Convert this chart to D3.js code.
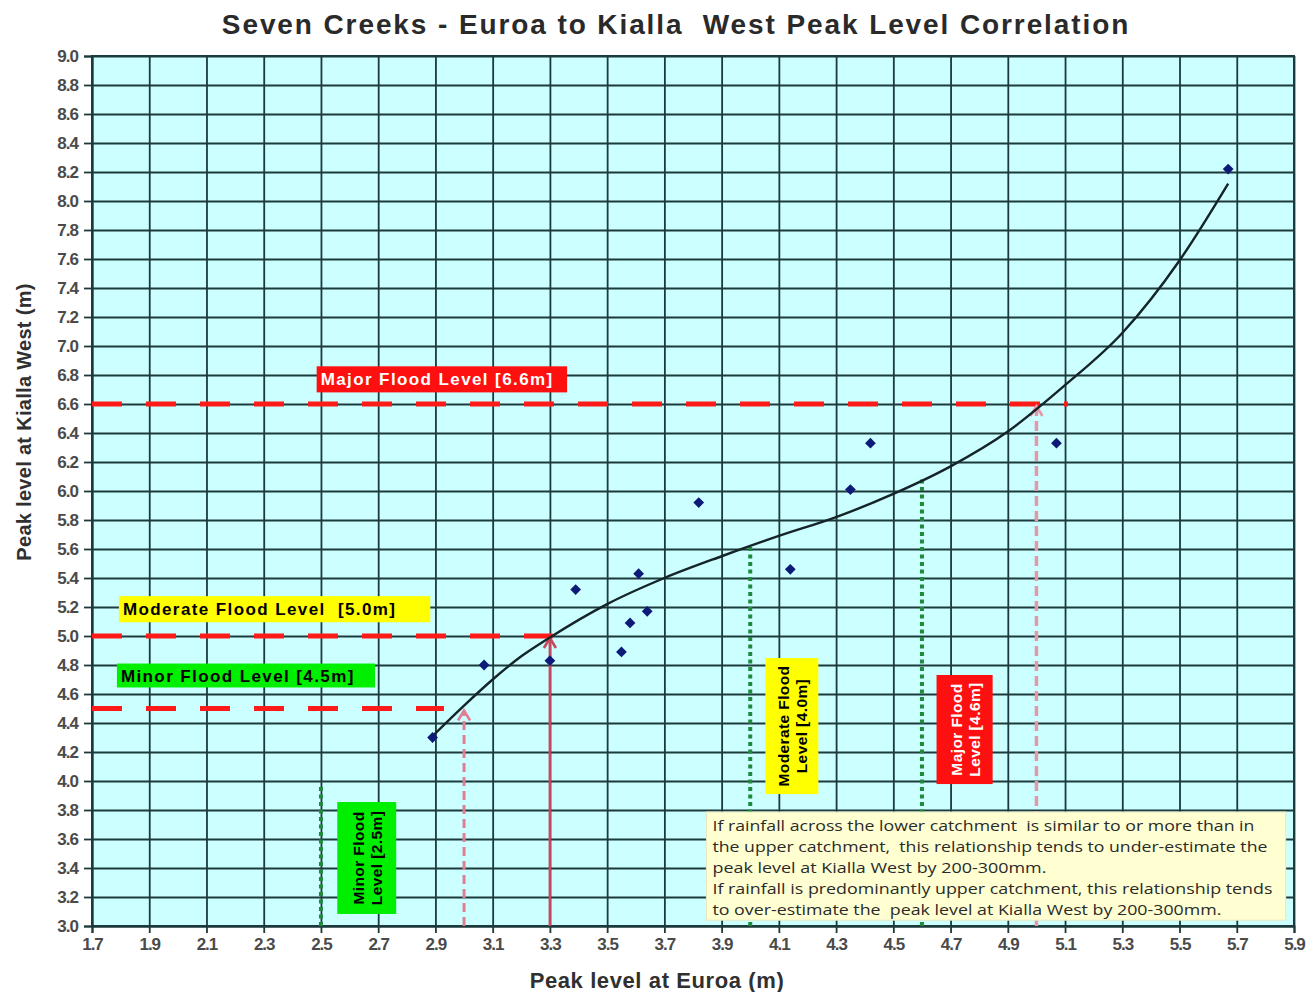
<!DOCTYPE html>
<html>
<head>
<meta charset="utf-8">
<script src="https://cdn.jsdelivr.net/npm/d3@7"></script>
<style>
  html, body { margin: 0; padding: 0; background: #ffffff; }
  svg { display: block; }
</style>
</head>
<body>
<div id="chart"></div>
<script>
// ---------------- DATA ----------------
const chartTitle = "Seven Creeks - Euroa to Kialla  West Peak Level Correlation";
const xAxisTitle = "Peak level at Euroa (m)";
const yAxisTitle = "Peak level at Kialla West (m)";

// observed peak pairs
const euroaPeaks  = [2.89, 3.07, 3.30, 3.39, 3.55, 3.58, 3.61, 3.64, 3.82, 4.14, 4.35, 4.42, 5.07, 5.67];
const kiallaPeaks = [4.30, 4.80, 4.83, 5.32, 4.89, 5.09, 5.43, 5.17, 5.92, 5.46, 6.01, 6.33, 6.33, 8.22];

// trend curve
const trendEuroa  = [2.89, 3.00, 3.10, 3.20, 3.30, 3.50, 3.70, 3.90, 4.10, 4.30, 4.50, 4.70, 4.90, 5.10, 5.30, 5.50, 5.67];
const trendKialla = [4.31, 4.52, 4.70, 4.86, 4.99, 5.22, 5.40, 5.55, 5.69, 5.82, 5.98, 6.17, 6.41, 6.73, 7.09, 7.59, 8.12];

// Kialla West flood levels (horizontal dashed lines)
const kiallaLevelLabels = ["Minor Flood Level [4.5m]", "Moderate Flood Level  [5.0m]", "Major Flood Level [6.6m]"];
const kiallaLevels      = [4.5, 5.0, 6.6];
const kiallaLineEnds    = [2.93, 3.31, 5.11];

// Euroa flood levels (vertical dotted lines)
const euroaLevelLabels1 = ["Minor Flood", "Moderate Flood", "Major Flood"];
const euroaLevelLabels2 = ["Level [2.5m]", "Level [4.0m]", "Level [4.6m]"];
const euroaLevels       = [2.5, 4.0, 4.6];
const euroaLineTops     = [3.97, 5.63, 6.08];

// correlation arrows (Euroa level -> Kialla level)
const arrowEuroa  = [3.0, 3.3, 5.0];
const arrowKialla = [4.5, 5.0, 6.6];

const levelColours = ["#00ee00", "#ffff00", "#ff1010"];
const levelText    = ["#000000", "#000000", "#ffffff"];

const noteLines = [
  "If rainfall across the lower catchment  is similar to or more than in",
  "the upper catchment,  this relationship tends to under-estimate the",
  "peak level at Kialla West by 200-300mm.",
  "If rainfall is predominantly upper catchment, this relationship tends",
  "to over-estimate the  peak level at Kialla West by 200-300mm."
];

const xTickLabels = ["1.7","1.9","2.1","2.3","2.5","2.7","2.9","3.1","3.3","3.5","3.7","3.9","4.1","4.3","4.5","4.7","4.9","5.1","5.3","5.5","5.7","5.9"];
const yTickLabels = ["3.0","3.2","3.4","3.6","3.8","4.0","4.2","4.4","4.6","4.8","5.0","5.2","5.4","5.6","5.8","6.0","6.2","6.4","6.6","6.8","7.0","7.2","7.4","7.6","7.8","8.0","8.2","8.4","8.6","8.8","9.0"];

// ---------------- LAYOUT ----------------
const W = 1312, H = 992;
const plot = { left: 92, right: 1294, top: 56, bottom: 926 };

const svg = d3.select("#chart").append("svg").attr("width", W).attr("height", H);

const x = d3.scaleLinear().domain([1.7, 5.9]).range([plot.left, plot.right]);
const y = d3.scaleLinear().domain([3.0, 9.0]).range([plot.bottom, plot.top]);

const xTickVals = xTickLabels.map(Number);
const yTickVals = yTickLabels.map(Number);

// plot background
svg.append("rect")
  .attr("x", plot.left).attr("y", plot.top)
  .attr("width", plot.right - plot.left).attr("height", plot.bottom - plot.top)
  .attr("fill", "#ccffff");

const gridColour = "#1c3a3c";

// grid lines
svg.append("g")
  .attr("transform", `translate(0,${plot.bottom})`)
  .call(d3.axisBottom(x).tickValues(xTickVals).tickSize(-(plot.bottom - plot.top)).tickFormat(""))
  .call(g => g.select(".domain").remove())
  .call(g => g.selectAll("line").attr("stroke", gridColour).attr("stroke-width", 1.8));

svg.append("g")
  .attr("transform", `translate(${plot.left},0)`)
  .call(d3.axisLeft(y).tickValues(yTickVals).tickSize(-(plot.right - plot.left)).tickFormat(""))
  .call(g => g.select(".domain").remove())
  .call(g => g.selectAll("line").attr("stroke", gridColour).attr("stroke-width", 1.8));

// axes with tick labels
const tickFont = "'Liberation Sans', Arial, sans-serif";
svg.append("g")
  .attr("transform", `translate(0,${plot.bottom})`)
  .call(d3.axisBottom(x).tickValues(xTickVals).tickSize(7).tickPadding(5).tickFormat((d, i) => xTickLabels[i]))
  .call(g => g.select(".domain").attr("stroke", gridColour).attr("stroke-width", 2))
  .call(g => g.selectAll("line").attr("stroke", gridColour).attr("stroke-width", 1.8))
  .call(g => g.selectAll("text").attr("font-family", tickFont).attr("font-weight", "bold")
    .attr("font-size", 17).attr("fill", "#4a4a4a").attr("letter-spacing", "-1px"));

svg.append("g")
  .attr("transform", `translate(${plot.left},0)`)
  .call(d3.axisLeft(y).tickValues(yTickVals).tickSize(8).tickPadding(6).tickFormat((d, i) => yTickLabels[i]))
  .call(g => g.select(".domain").attr("stroke", gridColour).attr("stroke-width", 2))
  .call(g => g.selectAll("line").attr("stroke", gridColour).attr("stroke-width", 1.8))
  .call(g => g.selectAll("text").attr("font-family", tickFont).attr("font-weight", "bold")
    .attr("font-size", 17).attr("fill", "#4a4a4a").attr("letter-spacing", "-1px"));

// right + top border
svg.append("rect")
  .attr("x", plot.left).attr("y", plot.top)
  .attr("width", plot.right - plot.left).attr("height", plot.bottom - plot.top)
  .attr("fill", "none").attr("stroke", gridColour).attr("stroke-width", 2);

// ---------------- FLOOD LINES ----------------
// vertical green dotted lines (Euroa flood levels)
svg.append("g").selectAll("line")
  .data(euroaLevels)
  .join("line")
  .attr("x1", d => x(d)).attr("x2", d => x(d))
  .attr("y1", y(3.0)).attr("y2", (d, i) => y(euroaLineTops[i]))
  .attr("stroke", "#1f8a3c").attr("stroke-width", 4).attr("stroke-dasharray", "4 3.5");

// horizontal red dashed lines (Kialla flood levels)
svg.append("g").selectAll("line")
  .data(kiallaLevels)
  .join("line")
  .attr("x1", x(1.7)).attr("x2", (d, i) => x(kiallaLineEnds[i]))
  .attr("y1", d => y(d)).attr("y2", d => y(d))
  .attr("stroke", "#ff1a1a").attr("stroke-width", 5).attr("stroke-dasharray", "30 24");

// arrows from Euroa level up to Kialla level
const arrowStyles = [
  { stroke: "#e07f93", dash: "9 5", width: 3 },
  { stroke: "#c4485e", dash: null,  width: 2.6 },
  { stroke: "#e497a6", dash: "10 5", width: 3.5 }
];
const arrowG = svg.append("g");
arrowEuroa.forEach((ev, i) => {
  const st = arrowStyles[i];
  const ax = x(ev), ay = y(arrowKialla[i]);
  arrowG.append("line")
    .attr("x1", ax).attr("x2", ax)
    .attr("y1", y(3.0)).attr("y2", ay + 2)
    .attr("stroke", st.stroke).attr("stroke-width", st.width)
    .attr("stroke-dasharray", st.dash);
  arrowG.append("path")
    .attr("d", `M${ax - 6},${ay + 12} L${ax},${ay + 2} L${ax + 6},${ay + 12}`)
    .attr("fill", "none").attr("stroke", st.stroke).attr("stroke-width", 2.6);
});

// ---------------- TREND CURVE ----------------
const trendPts = trendEuroa.map((d, i) => [d, trendKialla[i]]);
svg.append("path")
  .datum(trendPts)
  .attr("d", d3.line().x(d => x(d[0])).y(d => y(d[1])).curve(d3.curveMonotoneX))
  .attr("fill", "none").attr("stroke", "#142428").attr("stroke-width", 2.4);

// ---------------- POINTS ----------------
svg.append("g").selectAll("path")
  .data(euroaPeaks.map((d, i) => [d, kiallaPeaks[i]]))
  .join("path")
  .attr("d", d3.symbol().type(d3.symbolSquare).size(58))
  .attr("transform", d => `translate(${x(d[0])},${y(d[1])}) rotate(45)`)
  .attr("fill", "#0e1a78");

// ---------------- LABEL BOXES ----------------
const labelFont = "'Liberation Sans', Arial, sans-serif";
// horizontal label boxes in data units: [x0, x1, yTop, yBottom]
const hBoxes = [
  [1.787, 2.689, 4.81, 4.645],
  [1.794, 2.882, 5.275, 5.095],
  [2.485, 3.360, 6.86, 6.68]
];
const hLabelG = svg.append("g");
kiallaLevelLabels.forEach((lab, i) => {
  const b = hBoxes[i];
  const bx0 = x(b[0]), bx1 = x(b[1]), by0 = y(b[2]), by1 = y(b[3]);
  hLabelG.append("rect")
    .attr("x", bx0).attr("y", by0)
    .attr("width", bx1 - bx0).attr("height", by1 - by0)
    .attr("fill", levelColours[i]);
  hLabelG.append("text")
    .attr("x", bx0 + 4).attr("y", (by0 + by1) / 2 + 6)
    .attr("font-family", labelFont).attr("font-weight", "bold").attr("font-size", 17)
    .attr("letter-spacing", "1.4px")
    .attr("fill", levelText[i])
    .attr("xml:space", "preserve")
    .text(lab);
});

// vertical (rotated) label boxes in data units: [x0, x1, yTop, yBottom]
const vBoxes = [
  [2.557, 2.763, 3.855, 3.083],
  [4.053, 4.238, 4.848, 3.910],
  [4.651, 4.847, 4.731, 3.979]
];
const vLabelG = svg.append("g");
euroaLevels.forEach((lv, i) => {
  const b = vBoxes[i];
  const x0 = x(b[0]), x1 = x(b[1]), y0 = y(b[2]), y1 = y(b[3]);
  vLabelG.append("rect")
    .attr("x", x0).attr("y", y0).attr("width", x1 - x0).attr("height", y1 - y0)
    .attr("fill", levelColours[i]);
  const cx = (x0 + x1) / 2, cy = (y0 + y1) / 2;
  const t = vLabelG.append("text")
    .attr("transform", `translate(${cx},${cy}) rotate(-90)`)
    .attr("text-anchor", "middle")
    .attr("font-family", labelFont).attr("font-weight", "bold").attr("font-size", 15.5)
    .attr("letter-spacing", "0.4px")
    .attr("fill", levelText[i]);
  t.append("tspan").attr("x", 0).attr("y", -3).text(euroaLevelLabels1[i]);
  t.append("tspan").attr("x", 0).attr("y", 15).text(euroaLevelLabels2[i]);
});

// ---------------- NOTE BOX ----------------
const noteBox = [3.847, 5.871, 3.786, 3.04];
const noteWidths = [542, 555, 334, 560, 509];
const nx0 = x(noteBox[0]), nx1 = x(noteBox[1]), ny0 = y(noteBox[2]), ny1 = y(noteBox[3]);
svg.append("rect")
  .attr("x", nx0).attr("y", ny0).attr("width", nx1 - nx0).attr("height", ny1 - ny0)
  .attr("fill", "#ffffd2").attr("stroke", "#e8e8c0").attr("stroke-width", 1);
svg.append("g").selectAll("text")
  .data(noteLines)
  .join("text")
  .attr("x", nx0 + 6)
  .attr("y", (d, i) => ny0 + 19 + i * 21)
  .attr("font-family", "'Open Sans', 'Noto Sans', sans-serif")
  .attr("font-size", 15)
  .attr("fill", "#2a2a2a")
  .attr("textLength", (d, i) => noteWidths[i])
  .attr("lengthAdjust", "spacingAndGlyphs")
  .attr("xml:space", "preserve")
  .text(d => d);

// ---------------- TITLES ----------------
svg.append("text")
  .attr("x", 676).attr("y", 34)
  .attr("text-anchor", "middle")
  .attr("font-family", labelFont).attr("font-weight", "bold").attr("font-size", 28)
  .attr("letter-spacing", "1.9px")
  .attr("fill", "#2a2a2a")
  .attr("xml:space", "preserve")
  .text(chartTitle);

svg.append("text")
  .attr("x", 657).attr("y", 988)
  .attr("text-anchor", "middle")
  .attr("font-family", labelFont).attr("font-weight", "bold").attr("font-size", 22)
  .attr("letter-spacing", "0.6px")
  .attr("fill", "#303030")
  .text(xAxisTitle);

svg.append("text")
  .attr("transform", `translate(31,422) rotate(-90)`)
  .attr("text-anchor", "middle")
  .attr("font-family", labelFont).attr("font-weight", "bold").attr("font-size", 20)
  .attr("letter-spacing", "0.3px")
  .attr("fill", "#303030")
  .text(yAxisTitle);
</script>
</body>
</html>
